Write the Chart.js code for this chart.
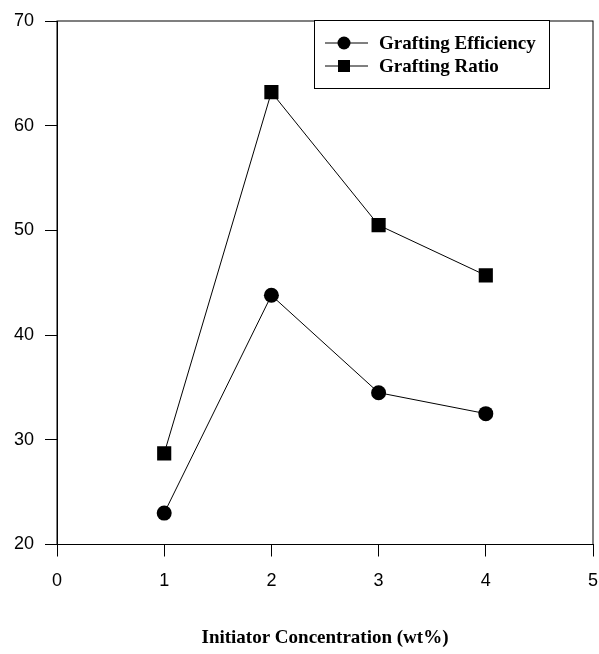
<!DOCTYPE html>
<html>
<head>
<meta charset="utf-8">
<script src="https://cdn.jsdelivr.net/npm/chart.js@4.4.0/dist/chart.umd.min.js"></script>
<style>
  html, body { margin: 0; padding: 0; background: #fff; }
  #wrap { width: 599px; height: 654px; }
</style>
</head>
<body>
<div id="wrap"><canvas id="grafica"></canvas></div>
<script>
// datos
const concentracion = [1, 2, 3, 4];
const eficiencia = [23.0, 43.8, 34.5, 32.5];
const razon = [28.7, 63.2, 50.5, 45.7];
const etiquetas = ['Grafting Efficiency', 'Grafting Ratio'];
const tituloX = 'Initiator Concentration (wt%)';

function puntos(xs, ys) {
    return xs.map((x, i) => ({ x: x, y: ys[i] }));
}

// marco completo alrededor del area de la grafica
const marco = {
    id: 'marco',
    afterDatasetsDraw(chart) {
        const a = chart.chartArea;
        const ctx = chart.ctx;
        ctx.save();
        ctx.strokeStyle = '#000';
        ctx.lineWidth = 1;
        ctx.strokeRect(a.left, a.top, a.right - a.left, a.bottom - a.top);
        ctx.restore();
    }
};

// leyenda dibujada dentro del area, como en la figura original
const leyenda = {
    id: 'leyenda',
    afterDraw(chart) {
        const ctx = chart.ctx;
        const x0 = 314, y0 = 20, w = 235, h = 68;
        ctx.save();
        ctx.fillStyle = '#fff';
        ctx.fillRect(x0, y0, w, h);
        ctx.strokeStyle = '#000';
        ctx.lineWidth = 1;
        ctx.strokeRect(x0 + 0.5, y0 + 0.5, w, h);
        ctx.font = 'bold 19px "Liberation Serif"';
        ctx.textBaseline = 'middle';
        const filas = [43, 66];
        chart.data.datasets.forEach((ds, i) => {
            const y = filas[i];
            ctx.strokeStyle = '#000';
            ctx.beginPath();
            ctx.moveTo(325, y);
            ctx.lineTo(368, y);
            ctx.stroke();
            ctx.fillStyle = '#000';
            if (ds.pointStyle === 'circle') {
                ctx.beginPath();
                ctx.arc(344, y, 6.5, 0, Math.PI * 2);
                ctx.fill();
            } else {
                ctx.fillRect(338, y - 6, 12, 12);
            }
            ctx.fillText(ds.label, 379, y + 1);
        });
        ctx.restore();
    }
};

const fuenteTicks = { family: '"Liberation Sans", Arial, sans-serif', size: 18 };

new Chart(document.getElementById('grafica'), {
    type: 'line',
    data: {
        datasets: [{
            label: etiquetas[0],
            data: puntos(concentracion, eficiencia),
            borderColor: '#000',
            backgroundColor: '#000',
            borderWidth: 1,
            pointStyle: 'circle',
            pointRadius: 7.5,
            pointBorderWidth: 0
        },
        {
            label: etiquetas[1],
            data: puntos(concentracion, razon),
            borderColor: '#000',
            backgroundColor: '#000',
            borderWidth: 1,
            pointStyle: 'rect',
            pointRadius: 10,
            pointBorderWidth: 0
        }]
    },
    options: {
        responsive: true,
        maintainAspectRatio: false,
        animation: false,
        layout: { autoPadding: false, padding: { top: 21, right: 6, left: 0, bottom: 0 } },
        plugins: {
            legend: { display: false },
            tooltip: { enabled: false }
        },
        scales: {
            x: {
                type: 'linear',
                min: 0,
                max: 5,
                ticks: { stepSize: 1, color: '#000', font: fuenteTicks, padding: 14 },
                grid: { drawOnChartArea: false, drawTicks: true, tickLength: 12, color: '#000' },
                border: { color: '#000', width: 1 },
                title: {
                    display: true,
                    text: tituloX,
                    color: '#000',
                    font: { family: '"Liberation Serif", "Times New Roman", serif', size: 19, weight: 'bold' },
                    padding: { top: 0, bottom: 5 }
                },
                afterFit(scale) {
                    scale.height = 109.5;
                    scale.paddingLeft = 0;
                    scale.paddingRight = 0;
                }
            },
            y: {
                min: 20,
                max: 70,
                ticks: { stepSize: 10, color: '#000', font: fuenteTicks, padding: 11 },
                grid: { drawOnChartArea: false, drawTicks: true, tickLength: 12, color: '#000' },
                border: { color: '#000', width: 1 },
                afterFit(scale) {
                    scale.width = 57;
                    scale.paddingTop = 0;
                    scale.paddingBottom = 0;
                }
            }
        }
    },
    plugins: [marco, leyenda]
});
</script>
</body>
</html>
